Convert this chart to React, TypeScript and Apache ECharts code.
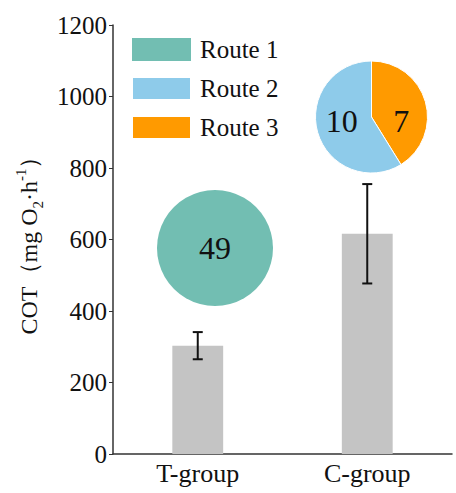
import React, { useEffect, useRef } from "react";
import * as echarts from "echarts";

// Oxygen cost of transport per group, mean and error
const categories = ["T-group", "C-group"];
const cotMeans = [303, 616];
const cotErrors = [38, 139];

// Y axis scale
const yMin = 0;
const yMax = 1200;
const yStep = 200;

// Route counts shown as pies above each group
const routeNames = ["Route 1", "Route 2", "Route 3"];
const routeColors = ["#72BEB2", "#8ECBEA", "#FF9A00"];
const tGroupRoutes = [{ name: "Route 1", value: 49 }];
const cGroupRoutes = [
  { name: "Route 3", value: 7 },
  { name: "Route 2", value: 10 },
];

const SERIF = "Liberation Serif";

function colorOf(name: string) {
  return routeColors[routeNames.indexOf(name)];
}

export default function App() {
  const ref = useRef<HTMLDivElement>(null);

  useEffect(() => {
    if (!ref.current) return;
    const chart = echarts.init(ref.current, undefined, { renderer: "svg" });

    const errorData = categories.map((_, i) => [i, cotMeans[i], cotErrors[i]]);
    const cPieCenter = [371.5, 117];

    const pieLabel = {
      show: true,
      color: "#111",
      fontFamily: SERIF,
      fontSize: 32,
      formatter: "{c}",
    };

    chart.setOption({
      animation: false,
      backgroundColor: "#ffffff",
      textStyle: { fontFamily: SERIF },
      grid: { left: 113, right: 4, top: 25, bottom: 39, containLabel: false },
      legend: {
        data: routeNames,
        orient: "vertical",
        left: 131,
        top: 37,
        padding: 0,
        icon: "rect",
        itemWidth: 59,
        itemHeight: 23,
        itemGap: 14,
        selectedMode: false,
        textStyle: {
          fontFamily: SERIF,
          fontSize: 25,
          lineHeight: 23,
          color: "#111",
          padding: [0, 0, 0, 4],
        },
      },
      xAxis: {
        type: "category",
        data: categories,
        axisLine: { show: true, lineStyle: { color: "#333", width: 1.5 } },
        axisTick: { show: false },
        axisLabel: {
          fontFamily: SERIF,
          fontSize: 26,
          color: "#111",
          margin: 6,
        },
      },
      yAxis: {
        type: "value",
        min: yMin,
        max: yMax,
        interval: yStep,
        name: "{n|COT（mg O}{sub|2}{n|·h}{sup|-1}{n|）}",
        nameLocation: "middle",
        nameGap: 68,
        nameRotate: 90,
        nameTextStyle: {
          fontFamily: SERIF,
          fontSize: 24,
          color: "#111",
          rich: {
            n: { fontFamily: SERIF, fontSize: 24, color: "#111", lineHeight: 32, verticalAlign: "middle" },
            sub: { fontFamily: SERIF, fontSize: 15, color: "#111", lineHeight: 32, verticalAlign: "bottom" },
            sup: { fontFamily: SERIF, fontSize: 15, color: "#111", lineHeight: 32, verticalAlign: "top" },
          },
        },
        splitLine: { show: false },
        axisLine: { show: true, lineStyle: { color: "#333", width: 1.5 } },
        axisTick: { show: true, length: 4, lineStyle: { color: "#333", width: 1 } },
        axisLabel: {
          fontFamily: SERIF,
          fontSize: 25,
          color: "#111",
          margin: 6,
          formatter: (v: number) => String(v),
        },
      },
      series: [
        {
          name: "COT",
          type: "bar",
          data: cotMeans,
          barWidth: "30%",
          itemStyle: { color: "#C4C4C4" },
          z: 1,
        },
        {
          name: "COT error",
          type: "custom",
          data: errorData,
          z: 3,
          renderItem: (params: any, api: any) => {
            const idx = api.value(0);
            const mean = api.value(1);
            const err = api.value(2);
            const top = api.coord([idx, mean + err]);
            const bottom = api.coord([idx, mean - err]);
            const cap = 5;
            const style = { stroke: "#111", lineWidth: 2 };
            return {
              type: "group",
              children: [
                { type: "line", shape: { x1: top[0], y1: top[1], x2: bottom[0], y2: bottom[1] }, style },
                { type: "line", shape: { x1: top[0] - cap, y1: top[1], x2: top[0] + cap, y2: top[1] }, style },
                { type: "line", shape: { x1: bottom[0] - cap, y1: bottom[1], x2: bottom[0] + cap, y2: bottom[1] }, style },
              ],
            };
          },
        },
        {
          name: "T-group routes",
          type: "pie",
          center: [215, 248],
          radius: 58,
          startAngle: 90,
          label: { ...pieLabel, position: "center" },
          labelLine: { show: false },
          itemStyle: { borderColor: "#fff", borderWidth: 0 },
          emphasis: { disabled: true },
          data: tGroupRoutes.map((d) => ({ ...d, itemStyle: { color: colorOf(d.name) } })),
        },
        {
          name: "C-group routes",
          type: "pie",
          center: cPieCenter,
          radius: 56,
          startAngle: 90,
          clockwise: true,
          label: { ...pieLabel, position: "inside" },
          labelLine: { show: false },
          // keep both counts on one line across the middle of the pie
          labelLayout: () => ({ y: cPieCenter[1] + 4, verticalAlign: "middle" }),
          itemStyle: { borderColor: "#fff", borderWidth: 1 },
          emphasis: { disabled: true },
          data: cGroupRoutes.map((d) => ({ ...d, itemStyle: { color: colorOf(d.name) } })),
        },
      ],
    });

    return () => chart.dispose();
  }, []);

  return (
    <div
      ref={ref}
      style={{ position: "absolute", left: 0, top: 0, width: 456, height: 493 }}
    />
  );
}
